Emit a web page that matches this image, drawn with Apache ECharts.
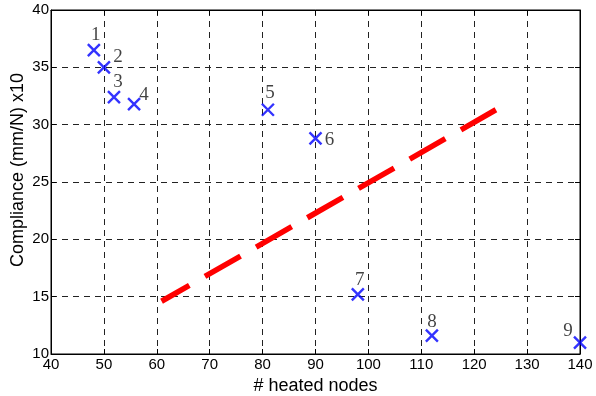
<!DOCTYPE html>
<html>
<head>
<meta charset="utf-8">
<script src="https://cdn.jsdelivr.net/npm/echarts@6/dist/echarts.min.js"></script>
<style>
  html, body { margin: 0; padding: 0; background: #fff; }
  #chart { width: 596px; height: 396px; }
</style>
</head>
<body>
<div id="chart"></div>
<script>
// measured points (# heated nodes, compliance)
const nodeLabels = ['1', '2', '3', '4', '5', '6', '7', '8', '9']
const heatedNodes = [48.1, 50, 51.9, 55.7, 81, 90, 98, 112, 140]
const compliance = [36.5, 35.0, 32.4, 31.8, 31.3, 28.8, 15.2, 11.6, 11.0]
// pixel offset of each number from its marker
const labelOffsets = [[2, -15], [14, -10], [4, -15], [10, -9], [2, -17], [14, 2], [2, -14], [0, -14], [-12, -12]]

// dashed trend line
const trendX = [60.9, 124.1]
const trendY = [14.6, 31.3]

const axisFont = 'Liberation Sans, Arial, sans-serif'
const labelFont = 'Liberation Serif, Times New Roman, serif'

const chart = echarts.init(document.getElementById('chart'))

const points = heatedNodes.map((x, i) => ({
  value: [x, compliance[i]],
  label: {
    show: true,
    formatter: nodeLabels[i],
    position: 'inside',
    offset: labelOffsets[i],
  },
}))

const gridDash = { color: '#222', type: [6, 5], width: 1 }

const option = {
  backgroundColor: '#fff',
  animation: false,
  grid: {
    left: 51,
    right: 16,
    top: 10,
    bottom: 42,
    outerBoundsMode: 'none',
    show: true,
    borderColor: '#000',
    borderWidth: 1,
  },
  xAxis: [
    {
      type: 'value',
      min: 40,
      max: 140,
      interval: 10,
      name: '# heated nodes',
      nameLocation: 'middle',
      nameGap: 20,
      nameTextStyle: { fontFamily: axisFont, fontSize: 18, color: '#000' },
      axisLine: { lineStyle: { color: '#000', width: 1 } },
      axisTick: { inside: true, length: 5, lineStyle: { color: '#000' } },
      axisLabel: { fontFamily: axisFont, fontSize: 15, color: '#000', margin: 3 },
      splitLine: { show: true, lineStyle: gridDash },
    },
    {
      type: 'value',
      position: 'top',
      min: 40,
      max: 140,
      interval: 10,
      axisLine: { lineStyle: { color: '#000' } },
      axisTick: { inside: true, length: 5, lineStyle: { color: '#000' } },
      axisLabel: { show: false },
      splitLine: { show: false },
    },
  ],
  yAxis: [
    {
      type: 'value',
      min: 10,
      max: 40,
      interval: 5,
      name: 'Compliance (mm/N) x10',
      nameLocation: 'middle',
      nameGap: 24,
      nameMoveOverlap: false,
      nameTextStyle: { fontFamily: axisFont, fontSize: 18, color: '#000', padding: [0, 0, 0, 24] },
      axisLine: { show: true, lineStyle: { color: '#000', width: 1 } },
      axisTick: { show: true, inside: true, length: 5, lineStyle: { color: '#000' } },
      axisLabel: { fontFamily: axisFont, fontSize: 15, color: '#000', margin: 2 },
      splitLine: { show: true, lineStyle: gridDash },
    },
    {
      type: 'value',
      position: 'right',
      min: 10,
      max: 40,
      interval: 5,
      axisLine: { show: true, lineStyle: { color: '#000' } },
      axisTick: { show: true, inside: true, length: 5, lineStyle: { color: '#000' } },
      axisLabel: { show: false },
      splitLine: { show: false },
    },
  ],
  series: [
    {
      type: 'line',
      data: trendX.map((x, i) => [x, trendY[i]]),
      symbol: 'none',
      lineStyle: { color: '#ff0000', width: 5.5, type: [41, 18], dashOffset: 9, cap: 'butt' },
      z: 3,
    },
    {
      type: 'scatter',
      data: points,
      symbol: 'path://M0,0L10,10M10,0L0,10',
      symbolSize: 12,
      itemStyle: { color: 'none', borderColor: '#0000ff', borderWidth: 2.4 },
      label: { fontFamily: labelFont, fontSize: 19, color: '#111' },
      z: 4,
    },
  ],
}

chart.setOption(option)
</script>
</body>
</html>
